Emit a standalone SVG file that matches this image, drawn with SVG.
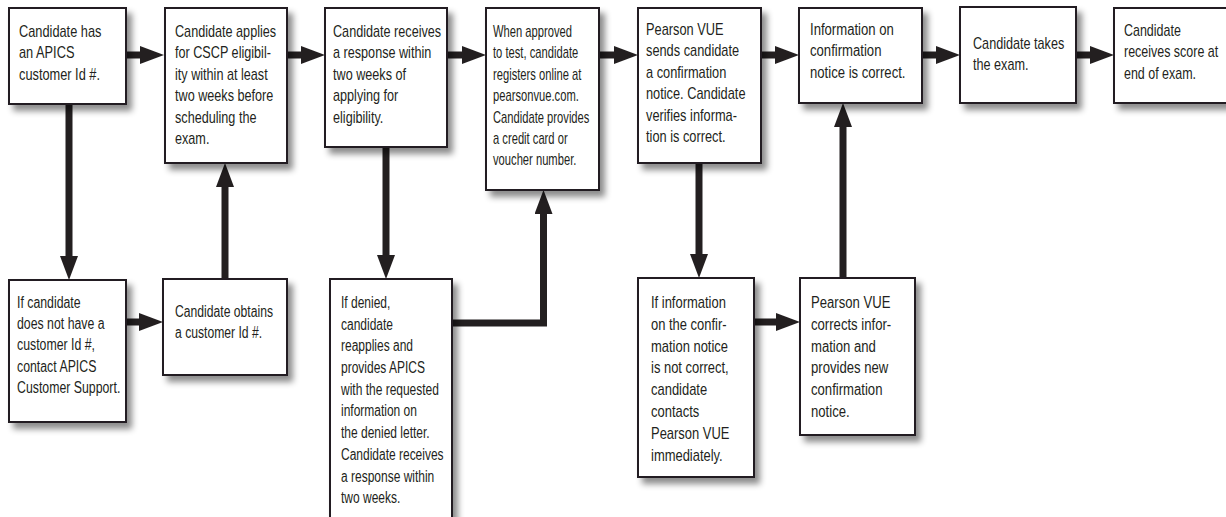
<svg xmlns="http://www.w3.org/2000/svg" width="1226" height="517" viewBox="0 0 1226 517">
<defs>
<filter id="sh" x="-10%" y="-10%" width="130%" height="130%">
<feDropShadow dx="5" dy="6" stdDeviation="3" flood-color="#000" flood-opacity="0.45"/>
</filter>
<marker id="ah" viewBox="0 0 24 18" refX="12" refY="9" markerWidth="24" markerHeight="18" markerUnits="userSpaceOnUse" orient="auto">
<path d="M0,0 L24,9 L0,18 z" fill="#231f20"/>
</marker>
<style>
.box{fill:#fff;stroke:#231f20;stroke-width:2;filter:url(#sh)}
.t{font-family:"Liberation Sans",Arial,sans-serif;font-size:16px;fill:#231f20}
.c{fill:none;stroke:#231f20;stroke-width:7;marker-end:url(#ah)}
.cn{fill:none;stroke:#231f20;stroke-width:7}
</style>
</defs>
<rect width="1226" height="517" fill="#fff"/>
<g id="connectors">
<line class="c" x1="126" y1="55" x2="152" y2="55"/>
<line class="c" x1="287" y1="55" x2="313" y2="55"/>
<line class="c" x1="447" y1="55" x2="474" y2="55"/>
<line class="c" x1="599" y1="55" x2="626" y2="55"/>
<line class="c" x1="761" y1="55" x2="787" y2="55"/>
<line class="c" x1="922" y1="55" x2="948" y2="55"/>
<line class="c" x1="1076" y1="55" x2="1102" y2="55"/>
<line class="c" x1="69" y1="104" x2="69" y2="268"/>
<line class="c" x1="126" y1="322" x2="151" y2="322"/>
<line class="c" x1="225" y1="279" x2="225" y2="175"/>
<line class="c" x1="386" y1="147" x2="386" y2="267"/>
<path class="c" d="M452,323 H543.5 V202"/>
<line class="c" x1="699" y1="163" x2="699" y2="266"/>
<line class="c" x1="754" y1="322" x2="788" y2="322"/>
<line class="c" x1="843" y1="278" x2="843" y2="115"/>
</g>
<g id="n1"><rect class="box" x="9" y="8" width="117" height="96"/>
<text class="t" transform="translate(19,37) scale(0.8,1)"><tspan x="0">Candidate has</tspan><tspan x="0" dy="21.4">an APICS</tspan><tspan x="0" dy="21.4">customer Id #.</tspan></text></g>
<g id="n2"><rect class="box" x="165" y="8" width="122" height="155"/>
<text class="t" transform="translate(175,37) scale(0.79,1)"><tspan x="0">Candidate applies</tspan><tspan x="0" dy="21.4">for CSCP eligibil-</tspan><tspan x="0" dy="21.4">ity within at least</tspan><tspan x="0" dy="21.4">two weeks before</tspan><tspan x="0" dy="21.4">scheduling the</tspan><tspan x="0" dy="21.4">exam.</tspan></text></g>
<g id="n3"><rect class="box" x="325" y="8" width="122" height="139"/>
<text class="t" transform="translate(333,37) scale(0.79,1)"><tspan x="0">Candidate receives</tspan><tspan x="0" dy="21.4">a response within</tspan><tspan x="0" dy="21.4">two weeks of</tspan><tspan x="0" dy="21.4">applying for</tspan><tspan x="0" dy="21.4">eligibility.</tspan></text></g>
<g id="n4"><rect class="box" x="486" y="8" width="113" height="182"/>
<text class="t" transform="translate(493,37) scale(0.7,1)"><tspan x="0">When approved</tspan><tspan x="0" dy="21.4">to test, candidate</tspan><tspan x="0" dy="21.4">registers online at</tspan><tspan x="0" dy="21.4">pearsonvue.com.</tspan><tspan x="0" dy="21.4">Candidate provides</tspan><tspan x="0" dy="21.4">a credit card or</tspan><tspan x="0" dy="21.4">voucher number.</tspan></text></g>
<g id="n5"><rect class="box" x="638" y="8" width="123" height="155"/>
<text class="t" transform="translate(646,35) scale(0.8,1)"><tspan x="0">Pearson VUE</tspan><tspan x="0" dy="21.4">sends candidate</tspan><tspan x="0" dy="21.4">a confirmation</tspan><tspan x="0" dy="21.4">notice. Candidate</tspan><tspan x="0" dy="21.4">verifies informa-</tspan><tspan x="0" dy="21.4">tion is correct.</tspan></text></g>
<g id="n6"><rect class="box" x="799" y="8" width="123" height="95"/>
<text class="t" transform="translate(810,35) scale(0.82,1)"><tspan x="0">Information on</tspan><tspan x="0" dy="21.4">confirmation</tspan><tspan x="0" dy="21.4">notice is correct.</tspan></text></g>
<g id="n7"><rect class="box" x="960" y="7" width="116" height="96"/>
<text class="t" transform="translate(973,49) scale(0.79,1)"><tspan x="0">Candidate takes</tspan><tspan x="0" dy="21.4">the exam.</tspan></text></g>
<g id="n8"><rect class="box" x="1114" y="8" width="120" height="95"/>
<text class="t" transform="translate(1124,36) scale(0.78,1)"><tspan x="0">Candidate</tspan><tspan x="0" dy="21.4">receives score at</tspan><tspan x="0" dy="21.4">end of exam.</tspan></text></g>
<g id="n9"><rect class="box" x="9" y="280" width="117" height="142"/>
<text class="t" transform="translate(17,308) scale(0.77,1)"><tspan x="0">If candidate</tspan><tspan x="0" dy="21.2">does not have a</tspan><tspan x="0" dy="21.2">customer Id #,</tspan><tspan x="0" dy="21.2">contact APICS</tspan><tspan x="0" dy="21.2">Customer Support.</tspan></text></g>
<g id="n10"><rect class="box" x="163" y="279" width="124" height="96"/>
<text class="t" transform="translate(175,317) scale(0.76,1)"><tspan x="0">Candidate obtains</tspan><tspan x="0" dy="21.4">a customer Id #.</tspan></text></g>
<g id="n11"><rect class="box" x="330" y="279" width="122" height="250"/>
<text class="t" transform="translate(341,308) scale(0.75,1)"><tspan x="0">If denied,</tspan><tspan x="0" dy="21.7">candidate</tspan><tspan x="0" dy="21.7">reapplies and</tspan><tspan x="0" dy="21.7">provides APICS</tspan><tspan x="0" dy="21.7">with the requested</tspan><tspan x="0" dy="21.7">information on</tspan><tspan x="0" dy="21.7">the denied letter.</tspan><tspan x="0" dy="21.7">Candidate receives</tspan><tspan x="0" dy="21.7">a response within</tspan><tspan x="0" dy="21.7">two weeks.</tspan></text></g>
<g id="n12"><rect class="box" x="638" y="278" width="116" height="199"/>
<text class="t" transform="translate(651,308) scale(0.81,1)"><tspan x="0">If information</tspan><tspan x="0" dy="21.8">on the confir-</tspan><tspan x="0" dy="21.8">mation notice</tspan><tspan x="0" dy="21.8">is not correct,</tspan><tspan x="0" dy="21.8">candidate</tspan><tspan x="0" dy="21.8">contacts</tspan><tspan x="0" dy="21.8">Pearson VUE</tspan><tspan x="0" dy="21.8">immediately.</tspan></text></g>
<g id="n13"><rect class="box" x="800" y="278" width="115" height="157"/>
<text class="t" transform="translate(811,308) scale(0.82,1)"><tspan x="0">Pearson VUE</tspan><tspan x="0" dy="21.8">corrects infor-</tspan><tspan x="0" dy="21.8">mation and</tspan><tspan x="0" dy="21.8">provides new</tspan><tspan x="0" dy="21.8">confirmation</tspan><tspan x="0" dy="21.8">notice.</tspan></text></g>
</svg>
